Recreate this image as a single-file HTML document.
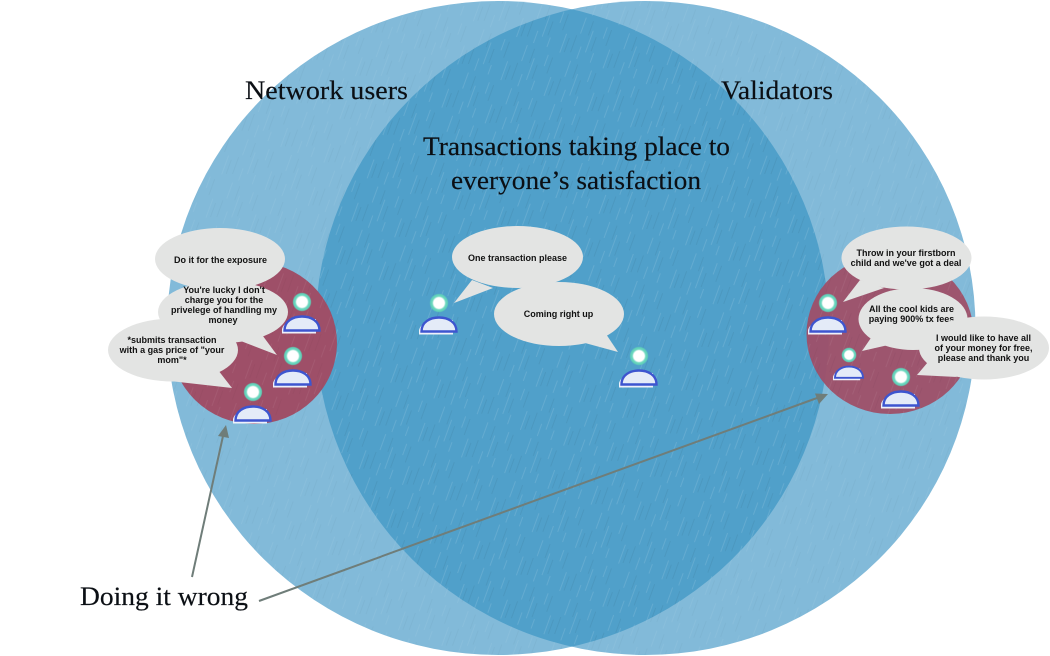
<!DOCTYPE html>
<html><head><meta charset="utf-8"><style>
html,body{margin:0;padding:0;background:#fff;width:1050px;height:656px;overflow:hidden}
svg{display:block}
.t{font-family:"Liberation Serif",serif;fill:#0b0f14;font-size:26px;stroke:#0b0f14;stroke-width:.15px}
.b{font-family:"Liberation Sans",sans-serif;fill:#111;font-size:9px;font-weight:bold;text-anchor:middle}
.bub{fill:#e3e4e3}
</style></head><body>
<svg width="1050" height="656" viewBox="0 0 1050 656" xmlns="http://www.w3.org/2000/svg">
<defs>
<pattern id="streak" width="46" height="46" patternUnits="userSpaceOnUse" patternTransform="rotate(20)">
<g stroke="#fff" stroke-opacity=".07" stroke-width=".8" fill="none">
<path d="M5 0v17M16 10v23M28 2v12M38 22v20M10 29v13M24 31v10"/>
</g>
<g stroke="#000" stroke-opacity=".03" stroke-width=".8" fill="none">
<path d="M2 20v18M13 1v15M21 15v15M33 3v17M42 25v15"/>
</g>
</pattern>
<clipPath id="cr"><ellipse cx="645.5" cy="328" rx="330" ry="327"/></clipPath>
<radialGradient id="head"><stop offset="0" stop-color="#fff"/><stop offset=".55" stop-color="#fff"/><stop offset=".72" stop-color="#6fd8c0"/><stop offset=".88" stop-color="#5fd0b8"/><stop offset="1" stop-color="#5fd0b8" stop-opacity=".1"/></radialGradient>
<g id="p">
<circle cx="0" cy="0" r="9.5" fill="url(#head)"/>
<path d="M-20 31.500V27C-18 20 -10 17 -2 17H14V31.500Z" fill="#eef1fa"/>
<path d="M-17.500 28.500C-17.500 19 -9 14.500 0 14.500C9 14.500 17.500 19 17.500 28.500Z" fill="#e4ebf8" stroke="#3d55cf" stroke-width="2.400"/>
</g>
</defs>

<ellipse cx="498" cy="328" rx="331" ry="327" fill="#82bad9"/>
<ellipse cx="645.5" cy="328" rx="330" ry="327" fill="#82bad9"/>
<ellipse cx="498" cy="328" rx="331" ry="327" fill="#50a0ca" clip-path="url(#cr)"/>
<ellipse cx="498" cy="328" rx="331" ry="327" fill="url(#streak)"/>
<ellipse cx="645.5" cy="328" rx="330" ry="327" fill="url(#streak)"/>

<ellipse cx="254" cy="343" rx="83" ry="81" fill="#9e4f68"/>
<ellipse cx="890" cy="334" rx="83.500" ry="80" fill="#9e4f68" fill-opacity=".95"/>
<ellipse cx="254" cy="343" rx="83" ry="81" fill="url(#streak)"/>
<ellipse cx="890" cy="334" rx="83.500" ry="80" fill="url(#streak)"/>

<use href="#p" x="302" y="302"/>
<use href="#p" x="293" y="356"/>
<use href="#p" x="253" y="392"/>
<use href="#p" x="439" y="303"/>
<use href="#p" x="639" y="356"/>
<use href="#p" x="828" y="303"/>
<use href="#p" transform="translate(849 355) scale(.8)"/>
<use href="#p" x="901" y="377"/>

<!-- left bubbles -->
<ellipse class="bub" cx="220" cy="259" rx="65" ry="31"/>
<ellipse class="bub" cx="223" cy="312" rx="65" ry="31"/>
<polygon class="bub" points="257,328 277,355 233,338"/>
<ellipse class="bub" cx="173" cy="350" rx="65" ry="31.500"/>
<polygon class="bub" points="218,370 232,388 170,381"/>
<text class="b" x="220.500" y="263">Do it for the exposure</text>
<text class="b" x="224" y="293">You're lucky I don't</text>
<text class="b" x="224" y="303">charge you for the</text>
<text class="b" x="224" y="313">privelege of handling my</text>
<text class="b" x="223" y="323">money</text>
<text class="b" x="172" y="343">*submits transaction</text>
<text class="b" x="172" y="353">with a gas price of "your</text>
<text class="b" x="172" y="363">mom"*</text>

<!-- center bubbles -->
<ellipse class="bub" cx="517.500" cy="257" rx="65.500" ry="31"/>
<polygon class="bub" points="472,280 454,303 493,288"/>
<ellipse class="bub" cx="559" cy="314" rx="65" ry="32"/>
<polygon class="bub" points="606,334 618,352 585,343"/>
<text class="b" x="517.500" y="261">One transaction please</text>
<text class="b" x="558.500" y="317">Coming right up</text>

<!-- right bubbles -->
<ellipse class="bub" cx="906.500" cy="258" rx="65" ry="31.500"/>
<polygon class="bub" points="860,280 843,302 884,288"/>
<ellipse class="bub" cx="913" cy="319" rx="54.500" ry="31"/>
<polygon class="bub" points="875,332 862,351 897,343"/>
<text class="b" x="906" y="256">Throw in your firstborn</text>
<text class="b" x="906" y="266">child and we've got a deal</text>
<text class="b" x="911.500" y="312">All the cool kids are</text>
<text class="b" x="911.500" y="322">paying 900% tx fees</text>
<ellipse class="bub" cx="984" cy="348" rx="65" ry="31.500"/>
<polygon class="bub" points="928,362 917,375 957,377"/>
<text class="b" x="983.500" y="341">I would like to have all</text>
<text class="b" x="983.500" y="351">of your money for free,</text>
<text class="b" x="983.500" y="361">please and thank you</text>

<!-- arrows -->
<line x1="192" y1="577" x2="223" y2="436" stroke="#6f7d79" stroke-width="2"/>
<polygon points="226,425 218,436 229,438" fill="#6f7d79"/>
<line x1="259" y1="601" x2="817" y2="398" stroke="#6f7d79" stroke-width="2"/>
<polygon points="828,394 815,393.500 819,404" fill="#6f7d79"/>

<!-- labels -->
<text class="t" x="245" y="99" textLength="163" lengthAdjust="spacingAndGlyphs">Network users</text>
<text class="t" x="721" y="99" textLength="112" lengthAdjust="spacingAndGlyphs">Validators</text>
<text class="t" x="423" y="155" textLength="307" lengthAdjust="spacingAndGlyphs">Transactions taking place to</text>
<text class="t" x="451" y="189" textLength="250" lengthAdjust="spacingAndGlyphs">everyone’s satisfaction</text>
<text class="t" x="80" y="605" textLength="168" lengthAdjust="spacingAndGlyphs">Doing it wrong</text>
</svg>
</body></html>
